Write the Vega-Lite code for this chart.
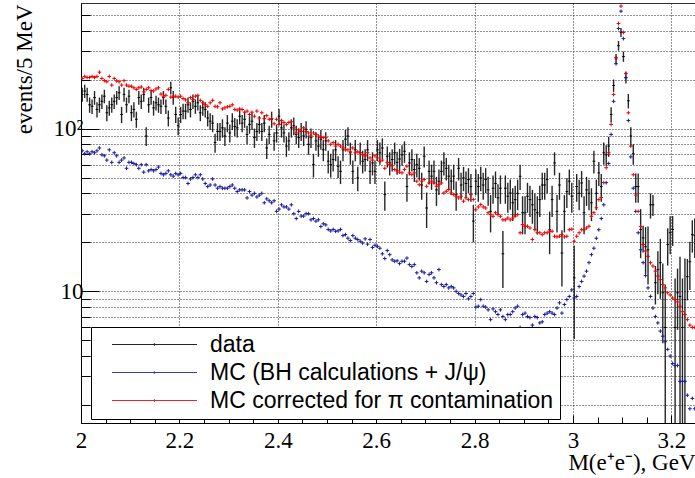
{
"$schema": "https://vega.github.io/schema/vega-lite/v6.json",
"width": 615, "height": 420,
"autosize": {"type": "none"},
"padding": {"left": 81, "top": 3, "right": 0, "bottom": 55},
"background": "white",
"config": {"view": {"stroke": "#333", "strokeWidth": 1}},
"datasets": {"h": [
{"x":2.0025,"d":162,"l":146,"h":178,"b":73,"r":203},
{"x":2.0075,"d":170,"l":154,"h":186,"b":70,"r":209},
{"x":2.0125,"d":162,"l":146,"h":178,"b":72,"r":206},
{"x":2.0175,"d":140,"l":125,"h":155,"b":70,"r":206},
{"x":2.0225,"d":137,"l":123,"h":151,"b":72,"r":209},
{"x":2.0275,"d":155,"l":140,"h":170,"b":71,"r":206},
{"x":2.0325,"d":131,"l":117,"h":145,"b":73,"r":209},
{"x":2.0375,"d":140,"l":125,"h":155,"b":76,"r":222},
{"x":2.0425,"d":147,"l":132,"h":162,"b":69,"r":203},
{"x":2.0475,"d":158,"l":143,"h":173,"b":68,"r":197},
{"x":2.0525,"d":125,"l":111,"h":139,"b":64,"r":194},
{"x":2.0575,"d":134,"l":120,"h":148,"b":74,"r":209},
{"x":2.0625,"d":140,"l":125,"h":155,"b":62,"r":185},
{"x":2.0675,"d":147,"l":132,"h":162,"b":71,"r":203},
{"x":2.0725,"d":155,"l":140,"h":170,"b":68,"r":196},
{"x":2.0775,"d":166,"l":150,"h":182,"b":62,"r":194},
{"x":2.0825,"d":122,"l":108,"h":136,"b":64,"r":185},
{"x":2.0875,"d":162,"l":146,"h":178,"b":66,"r":197},
{"x":2.0925,"d":140,"l":125,"h":155,"b":57,"r":185},
{"x":2.0975,"d":158,"l":143,"h":173,"b":62,"r":182},
{"x":2.1025,"d":125,"l":111,"h":139,"b":62,"r":182},
{"x":2.1075,"d":131,"l":117,"h":145,"b":61,"r":178},
{"x":2.1125,"d":114,"l":101,"h":127,"b":60,"r":174},
{"x":2.1175,"d":155,"l":140,"h":170,"b":57,"r":178},
{"x":2.1225,"d":147,"l":132,"h":162,"b":60,"r":180},
{"x":2.1275,"d":162,"l":146,"h":178,"b":54,"r":168},
{"x":2.1325,"d":90,"l":78,"h":102,"b":60,"r":174},
{"x":2.1375,"d":140,"l":125,"h":155,"b":55,"r":178},
{"x":2.1425,"d":155,"l":140,"h":170,"b":56,"r":171},
{"x":2.1475,"d":134,"l":120,"h":148,"b":55,"r":170},
{"x":2.1525,"d":144,"l":129,"h":159,"b":56,"r":175},
{"x":2.1575,"d":140,"l":125,"h":155,"b":58,"r":178},
{"x":2.1625,"d":137,"l":123,"h":151,"b":53,"r":163},
{"x":2.1675,"d":155,"l":140,"h":170,"b":52,"r":158},
{"x":2.1725,"d":137,"l":123,"h":151,"b":53,"r":160},
{"x":2.1775,"d":116,"l":103,"h":129,"b":55,"r":174},
{"x":2.1825,"d":178,"l":162,"h":194,"b":52,"r":156},
{"x":2.1875,"d":155,"l":140,"h":170,"b":51,"r":158},
{"x":2.1925,"d":122,"l":108,"h":136,"b":53,"r":158},
{"x":2.1975,"d":104,"l":91,"h":117,"b":52,"r":156},
{"x":2.2025,"d":122,"l":108,"h":136,"b":53,"r":158},
{"x":2.2075,"d":128,"l":114,"h":142,"b":50,"r":153},
{"x":2.2125,"d":128,"l":114,"h":142,"b":50,"r":150},
{"x":2.2175,"d":140,"l":125,"h":155,"b":46,"r":144},
{"x":2.2225,"d":131,"l":117,"h":145,"b":49,"r":155},
{"x":2.2275,"d":147,"l":132,"h":162,"b":50,"r":151},
{"x":2.2325,"d":137,"l":123,"h":151,"b":52,"r":158},
{"x":2.2375,"d":144,"l":129,"h":159,"b":50,"r":160},
{"x":2.2425,"d":125,"l":111,"h":139,"b":52,"r":149},
{"x":2.2475,"d":134,"l":120,"h":148,"b":49,"r":144},
{"x":2.2525,"d":131,"l":117,"h":145,"b":46,"r":140},
{"x":2.2575,"d":116,"l":103,"h":129,"b":44,"r":137},
{"x":2.2625,"d":111,"l":98,"h":124,"b":45,"r":144},
{"x":2.2675,"d":108,"l":95,"h":121,"b":49,"r":149},
{"x":2.2725,"d":82,"l":71,"h":93,"b":45,"r":137},
{"x":2.2775,"d":96,"l":84,"h":108,"b":43,"r":136},
{"x":2.2825,"d":96,"l":84,"h":108,"b":44,"r":144},
{"x":2.2875,"d":101,"l":88,"h":114,"b":43,"r":132},
{"x":2.2925,"d":90,"l":78,"h":102,"b":43,"r":134},
{"x":2.2975,"d":108,"l":95,"h":121,"b":43,"r":136},
{"x":2.3025,"d":94,"l":82,"h":106,"b":44,"r":137},
{"x":2.3075,"d":111,"l":98,"h":124,"b":45,"r":140},
{"x":2.3125,"d":103,"l":90,"h":116,"b":43,"r":131},
{"x":2.3175,"d":101,"l":88,"h":114,"b":41,"r":130},
{"x":2.3225,"d":119,"l":106,"h":132,"b":42,"r":132},
{"x":2.3275,"d":108,"l":95,"h":121,"b":42,"r":131},
{"x":2.3325,"d":114,"l":101,"h":127,"b":42,"r":126},
{"x":2.3375,"d":92,"l":80,"h":104,"b":37.5,"r":128},
{"x":2.3425,"d":106,"l":93,"h":119,"b":41,"r":122},
{"x":2.3475,"d":111,"l":98,"h":124,"b":39,"r":126},
{"x":2.3525,"d":88,"l":76,"h":100,"b":40,"r":119},
{"x":2.3575,"d":96,"l":84,"h":108,"b":38,"r":128},
{"x":2.3625,"d":106,"l":93,"h":119,"b":39,"r":116},
{"x":2.3675,"d":96,"l":84,"h":108,"b":40,"r":125},
{"x":2.3725,"d":108,"l":95,"h":121,"b":35,"r":115},
{"x":2.3775,"d":76,"l":65,"h":87,"b":37,"r":120},
{"x":2.3825,"d":92,"l":80,"h":104,"b":36,"r":114},
{"x":2.3875,"d":114,"l":101,"h":127,"b":35,"r":115},
{"x":2.3925,"d":84,"l":73,"h":95,"b":36,"r":107},
{"x":2.3975,"d":94,"l":82,"h":106,"b":31,"r":114},
{"x":2.4025,"d":119,"l":106,"h":132,"b":32,"r":106},
{"x":2.4075,"d":101,"l":88,"h":114,"b":34,"r":112},
{"x":2.4125,"d":94,"l":82,"h":106,"b":33,"r":109},
{"x":2.4175,"d":78,"l":67,"h":89,"b":33,"r":106},
{"x":2.4225,"d":84,"l":73,"h":95,"b":32,"r":109},
{"x":2.4275,"d":101,"l":88,"h":114,"b":34,"r":110},
{"x":2.4325,"d":104,"l":91,"h":117,"b":30,"r":101},
{"x":2.4375,"d":92,"l":80,"h":104,"b":28,"r":94},
{"x":2.4425,"d":88,"l":76,"h":100,"b":31,"r":98},
{"x":2.4475,"d":96,"l":84,"h":108,"b":29,"r":96},
{"x":2.4525,"d":90,"l":78,"h":102,"b":29,"r":101},
{"x":2.4575,"d":99,"l":87,"h":111,"b":30,"r":96},
{"x":2.4625,"d":80,"l":69,"h":91,"b":30,"r":94},
{"x":2.4675,"d":88,"l":76,"h":100,"b":27.5,"r":90},
{"x":2.4725,"d":60,"l":50,"h":70,"b":28,"r":94},
{"x":2.4775,"d":84,"l":73,"h":95,"b":27,"r":92},
{"x":2.4825,"d":78,"l":67,"h":89,"b":27.5,"r":90},
{"x":2.4875,"d":86,"l":74,"h":98,"b":25,"r":88},
{"x":2.4925,"d":74,"l":63,"h":85,"b":26,"r":88},
{"x":2.4975,"d":84,"l":73,"h":95,"b":25.6,"r":88},
{"x":2.5025,"d":63,"l":53,"h":73,"b":24,"r":84},
{"x":2.5075,"d":60,"l":50,"h":70,"b":23.5,"r":80},
{"x":2.5125,"d":64.5,"l":54.5,"h":74.5,"b":24,"r":82},
{"x":2.5175,"d":74,"l":63,"h":85,"b":23.4,"r":78},
{"x":2.5225,"d":58.7,"l":49.7,"h":67.7,"b":23.5,"r":80},
{"x":2.5275,"d":54.6,"l":45.6,"h":63.6,"b":24,"r":78},
{"x":2.5325,"d":74,"l":63,"h":85,"b":22,"r":76},
{"x":2.5375,"d":86,"l":74,"h":98,"b":22.3,"r":74},
{"x":2.5425,"d":90,"l":78,"h":102,"b":21.2,"r":74},
{"x":2.5475,"d":71,"l":60,"h":82,"b":20.5,"r":72},
{"x":2.5525,"d":54.6,"l":45.6,"h":63.6,"b":22,"r":76},
{"x":2.5575,"d":74,"l":63,"h":85,"b":21.2,"r":71},
{"x":2.5625,"d":49.7,"l":41.2,"h":58.2,"b":20.8,"r":72},
{"x":2.5675,"d":71,"l":60,"h":82,"b":20.3,"r":71},
{"x":2.5725,"d":63,"l":53,"h":73,"b":19.8,"r":69},
{"x":2.5775,"d":64.5,"l":54.5,"h":74.5,"b":21,"r":68},
{"x":2.5825,"d":74,"l":63,"h":85,"b":19.5,"r":71},
{"x":2.5875,"d":54.6,"l":45.6,"h":63.6,"b":20.8,"r":66},
{"x":2.5925,"d":61.5,"l":51.5,"h":71.5,"b":18.6,"r":64},
{"x":2.5975,"d":54.6,"l":45.6,"h":63.6,"b":19.2,"r":68},
{"x":2.6025,"d":74,"l":63,"h":85,"b":18.9,"r":66},
{"x":2.6075,"d":71,"l":60,"h":82,"b":18.4,"r":63},
{"x":2.6125,"d":76,"l":65,"h":87,"b":17,"r":64},
{"x":2.6175,"d":39.3,"l":31.3,"h":47.3,"b":15.9,"r":57},
{"x":2.6225,"d":67.6,"l":57.6,"h":77.6,"b":17.8,"r":62},
{"x":2.6275,"d":61.5,"l":51.5,"h":71.5,"b":16.8,"r":60},
{"x":2.6325,"d":64.5,"l":54.5,"h":74.5,"b":15.6,"r":59},
{"x":2.6375,"d":71,"l":60,"h":82,"b":15.3,"r":56},
{"x":2.6425,"d":62,"l":52,"h":72,"b":15.4,"r":55},
{"x":2.6475,"d":65,"l":55,"h":75,"b":14.8,"r":54},
{"x":2.6525,"d":69,"l":59,"h":79,"b":15.3,"r":53.4},
{"x":2.6575,"d":72.5,"l":61.5,"h":83.5,"b":15.3,"r":56},
{"x":2.6625,"d":44,"l":35.5,"h":52.5,"b":16,"r":58.7},
{"x":2.6675,"d":61.5,"l":51.5,"h":71.5,"b":14.6,"r":53.4},
{"x":2.6725,"d":64.5,"l":54.5,"h":74.5,"b":14.2,"r":52.1},
{"x":2.6775,"d":56,"l":47,"h":65,"b":14.6,"r":53.4},
{"x":2.6825,"d":60,"l":50,"h":70,"b":13,"r":47.5},
{"x":2.6875,"d":57,"l":48,"h":66,"b":12.1,"r":45.2},
{"x":2.6925,"d":45,"l":36.5,"h":53.5,"b":13.3,"r":47.5},
{"x":2.6975,"d":67.6,"l":57.6,"h":77.6,"b":13,"r":48.6},
{"x":2.7025,"d":32.5,"l":24.5,"h":40.5,"b":11.5,"r":44.2},
{"x":2.7075,"d":54.6,"l":45.6,"h":63.6,"b":12.7,"r":46.3},
{"x":2.7125,"d":51,"l":42,"h":60,"b":13,"r":47.5},
{"x":2.7175,"d":54.6,"l":45.6,"h":63.6,"b":12.1,"r":46.3},
{"x":2.7225,"d":42,"l":33.5,"h":50.5,"b":11.3,"r":44.2},
{"x":2.7275,"d":47.5,"l":39,"h":56,"b":13.6,"r":45.2},
{"x":2.7325,"d":54.6,"l":45.6,"h":63.6,"b":11,"r":46.3},
{"x":2.7375,"d":61.5,"l":51.5,"h":71.5,"b":10.7,"r":40.2},
{"x":2.7425,"d":57,"l":48,"h":66,"b":11,"r":41.2},
{"x":2.7475,"d":51,"l":42,"h":60,"b":10.5,"r":42.2},
{"x":2.7525,"d":47.5,"l":39,"h":56,"b":10.7,"r":40.2},
{"x":2.7575,"d":51,"l":42,"h":60,"b":10.5,"r":39.3},
{"x":2.7625,"d":39.3,"l":31.3,"h":47.3,"b":10,"r":38.4},
{"x":2.7675,"d":57,"l":48,"h":66,"b":9.7,"r":37.5},
{"x":2.7725,"d":45,"l":36.5,"h":53.5,"b":9.5,"r":38.4},
{"x":2.7775,"d":49.7,"l":41.2,"h":58.2,"b":9.3,"r":35.8},
{"x":2.7825,"d":46,"l":37.5,"h":54.5,"b":9.7,"r":37.5},
{"x":2.7875,"d":48.6,"l":40.1,"h":57.1,"b":9,"r":36.6},
{"x":2.7925,"d":44,"l":35.5,"h":52.5,"b":9.3,"r":39.3},
{"x":2.7975,"d":27,"l":20,"h":34,"b":9.7,"r":36.6},
{"x":2.8025,"d":47.5,"l":39,"h":56,"b":8,"r":31.7},
{"x":2.8075,"d":44,"l":35.5,"h":52.5,"b":8.1,"r":33},
{"x":2.8125,"d":49.7,"l":41.2,"h":58.2,"b":8.9,"r":34.1},
{"x":2.8175,"d":45,"l":36.5,"h":53.5,"b":8.1,"r":33},
{"x":2.8225,"d":48.6,"l":40.1,"h":57.1,"b":8,"r":32.5},
{"x":2.8275,"d":42,"l":33.5,"h":50.5,"b":7.7,"r":30.4},
{"x":2.8325,"d":31,"l":23,"h":39,"b":6.7,"r":29.6},
{"x":2.8375,"d":43,"l":34.5,"h":51.5,"b":7.8,"r":28.9},
{"x":2.8425,"d":46,"l":37.5,"h":54.5,"b":7.5,"r":30.4},
{"x":2.8475,"d":37.5,"l":29.5,"h":45.5,"b":7.2,"r":29.6},
{"x":2.8525,"d":43,"l":34.5,"h":51.5,"b":7.7,"r":28.9},
{"x":2.8575,"d":17,"l":10.5,"h":23.5,"b":7,"r":27.5},
{"x":2.8625,"d":43,"l":34.5,"h":51.5,"b":6.7,"r":27.5},
{"x":2.8675,"d":38.4,"l":30.4,"h":46.4,"b":7.2,"r":28.2},
{"x":2.8725,"d":40.2,"l":31.7,"h":48.7,"b":7.2,"r":27.5},
{"x":2.8775,"d":35,"l":27,"h":43,"b":7.5,"r":28.2},
{"x":2.8825,"d":36.6,"l":28.6,"h":44.6,"b":7.9,"r":29},
{"x":2.8875,"d":40,"l":31.5,"h":48.5,"b":8.1,"r":29.6},
{"x":2.8925,"d":50.9,"l":41.9,"h":59.9,"b":6,"r":22.9},
{"x":2.8975,"d":30.4,"l":22.4,"h":38.4,"b":7.2,"r":25.7},
{"x":2.9025,"d":30.4,"l":22.4,"h":38.4,"b":7.35,"r":25.1},
{"x":2.9075,"d":38.4,"l":30.4,"h":46.4,"b":7,"r":25.1},
{"x":2.9125,"d":36.6,"l":28.6,"h":44.6,"b":6.9,"r":24.5},
{"x":2.9175,"d":34,"l":26,"h":42,"b":6.2,"r":20.8},
{"x":2.9225,"d":31.7,"l":23.7,"h":39.7,"b":7,"r":23.9},
{"x":2.9275,"d":30.4,"l":22.4,"h":38.4,"b":6.9,"r":22.9},
{"x":2.9325,"d":36.6,"l":28.6,"h":44.6,"b":6.4,"r":22.9},
{"x":2.9375,"d":45,"l":36.5,"h":53.5,"b":6.5,"r":22.3},
{"x":2.9425,"d":45,"l":36.5,"h":53.5,"b":7.2,"r":22.9},
{"x":2.9475,"d":48.6,"l":40.1,"h":57.1,"b":7.35,"r":22.9},
{"x":2.9525,"d":23.9,"l":16.9,"h":30.9,"b":7.5,"r":23.4},
{"x":2.9575,"d":36.6,"l":28.6,"h":44.6,"b":7.35,"r":23.4},
{"x":2.9625,"d":61.5,"l":51.5,"h":71.5,"b":7.2,"r":21.8},
{"x":2.9675,"d":31,"l":23,"h":39,"b":7.9,"r":21.6},
{"x":2.9725,"d":45,"l":36.5,"h":53.5,"b":8.5,"r":21.8},
{"x":2.9775,"d":17.2,"l":10.7,"h":23.7,"b":7.35,"r":22.3},
{"x":2.9825,"d":31,"l":23,"h":39,"b":8.3,"r":21.6},
{"x":2.9875,"d":41,"l":32.5,"h":49.5,"b":8.9,"r":21.8},
{"x":2.9925,"d":47.5,"l":39,"h":56,"b":9.3,"r":23.9},
{"x":2.9975,"d":38.4,"l":30.4,"h":46.4,"b":10.2,"r":24.1},
{"x":3.0025,"d":12.1,"l":5.1,"h":19.1,"b":9.1,"r":20.3},
{"x":3.0075,"d":44,"l":35.5,"h":52.5,"b":9.3,"r":21.8},
{"x":3.0125,"d":40,"l":31.5,"h":48.5,"b":10.7,"r":22.9},
{"x":3.0175,"d":46.3,"l":37.8,"h":54.8,"b":11.5,"r":23.9},
{"x":3.0225,"d":30.4,"l":22.4,"h":38.4,"b":12.4,"r":23.9},
{"x":3.0275,"d":42,"l":33.5,"h":50.5,"b":13.3,"r":24.5},
{"x":3.0325,"d":40,"l":31.5,"h":48.5,"b":15,"r":25.1},
{"x":3.0375,"d":35,"l":27,"h":43,"b":16.8,"r":28.9},
{"x":3.0425,"d":63,"l":53,"h":73,"b":18.4,"r":30.4},
{"x":3.0475,"d":40,"l":31.5,"h":48.5,"b":21.2,"r":32.6},
{"x":3.0525,"d":53.4,"l":44.4,"h":62.4,"b":23.9,"r":36.6},
{"x":3.0575,"d":44,"l":35.5,"h":52.5,"b":28,"r":37.7},
{"x":3.0625,"d":71,"l":60,"h":82,"b":34,"r":46.5},
{"x":3.0675,"d":69,"l":59,"h":79,"b":46.5,"r":57.5},
{"x":3.0725,"d":78,"l":67,"h":89,"b":61,"r":71},
{"x":3.0775,"d":122,"l":109,"h":135,"b":92,"r":106},
{"x":3.0825,"d":184,"l":168,"h":200,"b":147,"r":162},
{"x":3.0875,"d":268,"l":249,"h":287,"b":250,"r":273},
{"x":3.0925,"d":323,"l":301,"h":345,"b":412,"r":442},
{"x":3.0975,"d":390,"l":365,"h":415,"b":526,"r":565},
{"x":3.1025,"d":277,"l":257,"h":297,"b":357,"r":389},
{"x":3.1075,"d":206,"l":189,"h":223,"b":205,"r":218},
{"x":3.1125,"d":148,"l":133,"h":163,"b":112,"r":125},
{"x":3.1175,"d":90,"l":78,"h":102,"b":67,"r":78},
{"x":3.1225,"d":70,"l":60,"h":80,"b":43,"r":52},
{"x":3.1275,"d":44,"l":35,"h":53,"b":31,"r":39},
{"x":3.1325,"d":44,"l":35,"h":53,"b":22.9,"r":31},
{"x":3.1375,"d":24,"l":16,"h":32,"b":18,"r":25},
{"x":3.1425,"d":21.3,"l":17.3,"h":25.3,"b":15,"r":19.4},
{"x":3.1475,"d":18.8,"l":12.8,"h":24.8,"b":12.5,"r":17.7},
{"x":3.1525,"d":18,"l":11,"h":25,"b":10.5,"r":16.4},
{"x":3.1575,"d":34,"l":28,"h":40,"b":9.3,"r":15},
{"x":3.1625,"d":34,"l":29,"h":39,"b":7.9,"r":14.3},
{"x":3.1675,"d":11.3,"l":8.3,"h":14.3,"b":7,"r":13.3},
{"x":3.1725,"d":13.6,"l":9.6,"h":17.6,"b":6.4,"r":12.4},
{"x":3.1775,"d":15,"l":9,"h":21,"b":5.7,"r":11.8},
{"x":3.1825,"d":9.8,"l":4.8,"h":14.8,"b":5.3,"r":11},
{"x":3.1875,"d":6,"l":1,"h":11,"b":4.9,"r":10.5},
{"x":3.1925,"d":19.4,"l":14.4,"h":24.4,"b":4.4,"r":9.8},
{"x":3.1975,"d":22.9,"l":16.9,"h":28.9,"b":4,"r":9.5},
{"x":3.2025,"d":24,"l":19,"h":29,"b":3.6,"r":9.1},
{"x":3.2075,"d":6,"l":1,"h":12,"b":3.5,"r":8.9},
{"x":3.2125,"d":9.8,"l":5.8,"h":13.8,"b":3.5,"r":8.6},
{"x":3.2175,"d":9.3,"l":1,"h":16.3,"b":2.8,"r":8.1},
{"x":3.2225,"d":6,"l":1,"h":12,"b":2.8,"r":7.5},
{"x":3.2275,"d":8.9,"l":1,"h":15.9,"b":2.8,"r":7.2},
{"x":3.2325,"d":12.3,"l":8.8,"h":15.8,"b":2.3,"r":6.7},
{"x":3.2375,"d":15.2,"l":10.2,"h":20.2,"b":1.9,"r":6.2},
{"x":3.2425,"d":22.3,"l":17.3,"h":27.3,"b":2.2,"r":6},
{"x":3.2475,"d":22,"l":16,"h":28,"b":1.9,"r":6}
]},
"data": {"name": "h"},
"encoding": {
  "x": {"field": "x", "type": "quantitative",
    "scale": {"domain": [2, 3.25], "nice": false, "zero": false},
    "axis": {
      "values": [2,2.05,2.1,2.15,2.2,2.25,2.3,2.35,2.4,2.45,2.5,2.55,2.6,2.65,2.7,2.75,2.8,2.85,2.9,2.95,3,3.05,3.1,3.15,3.2,3.25],
      "labelExpr": "abs(datum.value*5 - round(datum.value*5)) < 0.001 ? format(datum.value, '~g') : ''",
      "labelFont": "Liberation Serif", "labelFontSize": 23, "labelColor": "black",
      "labelPadding": 14, "labelFlush": false, "labelOverlap": false,
      "tickSize": {"condition": {"test": "abs(datum.value*5 - round(datum.value*5)) < 0.001", "value": -8}, "value": -6},
      "tickColor": "black", "domainColor": "black",
      "grid": true, "gridColor": "#222", "gridDash": [1, 2],
      "gridOpacity": {"condition": {"test": "abs(datum.value*5 - round(datum.value*5)) < 0.001 && datum.value > 2.01", "value": 1}, "value": 0},
      "title": "M(e⁺e⁻), GeV", "titleFont": "Liberation Serif", "titleFontSize": 23, "titleFontWeight": "normal", "titleColor": "black",
      "titleX": 614, "titleY": 46, "titleAlign": "right", "titleBaseline": "alphabetic"
    }
  },
  "stroke": {"field": "s", "type": "nominal",
    "scale": {"domain": ["d", "b", "r"], "range": ["#000000", "#1c1ca0", "#ee0000"]},
    "legend": {
      "orient": "none", "legendX": 10, "legendY": 324, "title": null,
      "symbolType": "M-5,0H5M0,-0.15V0.15", "symbolSize": 289, "symbolStrokeWidth": 1.2,
      "symbolOffset": 46, "labelOffset": 44,
      "labelFont": "Liberation Sans", "labelFontSize": 23, "labelColor": "black", "labelLimit": 700,
      "labelExpr": "datum.label == 'b' ? 'MC (BH calculations + J/ψ)' : datum.label == 'r' ? 'MC corrected for π contamination' : 'data'",
      "fillColor": "white", "strokeColor": "black", "padding": 6, "rowPadding": 4, "zindex": 1
    }}
},
"layer": [
  {"transform": [{"fold": ["d"], "as": ["s", "v"]}],
   "mark": {"type": "rule", "strokeWidth": 1.4, "opacity": 0.85, "clip": true},
   "encoding": {
     "y": {"field": "l", "type": "quantitative",
       "scale": {"type": "log", "domain": [1.553, 590.6], "nice": false},
       "axis": {
         "values": [2,3,4,5,6,7,8,9,10,20,30,40,50,60,70,80,90,100,200,300,400,500],
         "labelExpr": "datum.value == 10 ? '10' : datum.value == 100 ? '10²' : ''",
         "labelFont": "Liberation Serif", "labelFontSize": 23, "labelColor": "black",
         "labelPadding": 16, "labelOverlap": false, "labelFlush": false,
         "tickSize": {"condition": {"test": "datum.value == 10 || datum.value == 100", "value": -18}, "value": -9},
         "tickColor": "black", "domainColor": "black",
         "grid": true, "gridColor": "#222", "gridDash": [1, 2],
         "title": "events/5 MeV", "titleFont": "Liberation Serif", "titleFontSize": 23, "titleFontWeight": "normal", "titleColor": "black",
         "titleX": -50, "titleY": 1, "titleAlign": "right", "titleBaseline": "alphabetic", "titleAngle": -90
       }},
     "y2": {"field": "h"}
   }},
  {"transform": [{"fold": ["d"], "as": ["s", "v"]}],
   "mark": {"type": "point", "shape": "M-1,0H1", "size": 7, "strokeWidth": 1, "opacity": 1, "clip": true},
   "encoding": {
     "y": {"field": "v", "type": "quantitative"}
   }},
  {"transform": [{"fold": ["b", "r"], "as": ["s", "v"]}],
   "mark": {"type": "point", "shape": "M-1,0H1M0,-1V1", "size": 14, "strokeWidth": 1, "opacity": 1, "clip": true},
   "encoding": {
     "y": {"field": "v", "type": "quantitative"}
   }}
]
}
